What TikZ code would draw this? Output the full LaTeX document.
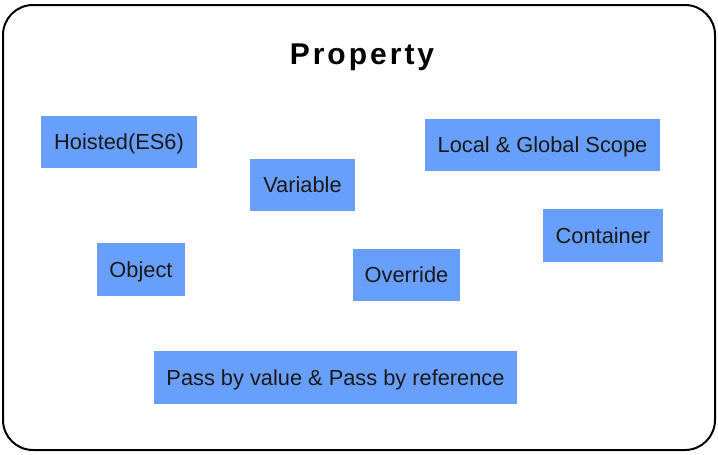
\documentclass[tikz,border=0pt]{standalone}
\usepackage{fontspec}
\setmainfont{Liberation Sans}
\newfontfamily\titlefont[LetterSpace=10]{Liberation Sans}
\definecolor{boxblue}{RGB}{104,159,252}
\begin{document}
\begin{tikzpicture}[x=1pt,y=-1pt,
  item/.style={fill=boxblue, inner sep=0pt, font=\fontsize{21.8}{24}\selectfont, text=black!90, text height=15.6pt, text depth=0pt}]
\useasboundingbox (0,0) rectangle (718,455);
\draw[line width=2pt, rounded corners=30pt] (3,5) rectangle (715,450);
\node[font=\titlefont\bfseries\fontsize{30}{34}\selectfont, text height=21.5pt, text depth=0pt, inner sep=0pt] (title) at (362,54) {Property};
\node[item, minimum width=156pt, minimum height=52pt] (hoist) at (119,142) {Hoisted(ES6)};
\node[item, minimum width=105pt, minimum height=52pt] (var) at (302.5,185) {Variable};
\node[item, minimum width=235pt, minimum height=52pt] (scope) at (542.5,145) {Local \& Global Scope};
\node[item, minimum width=120pt, minimum height=53pt] (cont) at (603,235.5) {Container};
\node[item, minimum width=88pt, minimum height=53pt] (obj) at (141,269.5) {Object};
\node[item, minimum width=107pt, minimum height=52pt] (over) at (406.5,275) {Override};
\node[item, minimum width=363pt, minimum height=53pt] (pass) at (335.5,377.5) {Pass by value \& Pass by reference};
\end{tikzpicture}
\end{document}
